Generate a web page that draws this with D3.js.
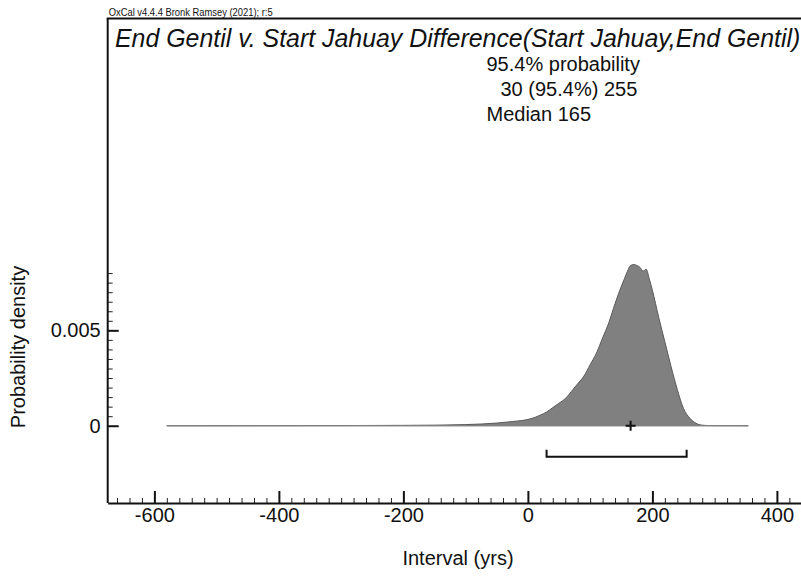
<!DOCTYPE html>
<html>
<head>
<meta charset="utf-8">
<script src="https://cdn.jsdelivr.net/npm/d3@7"></script>
<style>
	body { margin: 0; background: #fff; }
	svg { display: block; font-family: "Liberation Sans", Arial, sans-serif; }
	text { fill: #111; }
</style>
</head>
<body>
<div id="chart"></div>
<script>
// ---------- data
var intervalYrs = [-580, -500, -400, -300, -200, -150, -100, -75, -50, -25, 0, 10, 20, 30, 40, 50, 60, 70, 80, 90,
	100, 110, 120, 130, 140, 150, 155, 160, 165, 170, 175, 180, 185, 190, 195, 200, 210, 220, 230, 240,
	250, 260, 270, 280, 290, 300, 320, 340, 354];
var density = [0, 0.000002, 0.000004, 0.000008, 0.00002, 0.00003, 0.00006, 0.00009, 0.00014, 0.00022, 0.00033, 0.00042, 0.00056, 0.00072, 0.00095, 0.00118, 0.00142, 0.0018, 0.0022, 0.0026,
	0.0032, 0.0038, 0.0046, 0.0054, 0.0064, 0.0073, 0.0077, 0.0081, 0.0084, 0.00845, 0.0084, 0.0083, 0.0081, 0.0082, 0.0077, 0.0071, 0.0057, 0.0044, 0.0031, 0.0019,
	0.0009, 0.0004, 0.00013, 0.00003, 0.00001, 0.000005, 0.000005, 0.000003, 0];

var xMajorTicks = [-600, -400, -200, 0, 200, 400];
var yMajorTicks = [0, 0.005];
var yMinorMax = 0.008;
var hpdRange = [30, 255];
var median = 165;

var creditText = "OxCal v4.4.4 Bronk Ramsey (2021); r:5";
var titleText = "End Gentil v. Start Jahuay Difference(Start Jahuay,End Gentil)";
var summaryLines = ["95.4% probability", "30 (95.4%) 255", "Median 165"];
var xLabel = "Interval (yrs)";
var yLabel = "Probability density";

// ---------- layout
var width = 801, height = 576;
var frame = { left: 107.7, right: 801.8, top: 18.5, bottom: 503 };

var x = d3.scaleLinear().domain([-675, 440]).range([frame.left, frame.right]);
var y = d3.scaleLinear().domain([-0.00405, 0.02137]).range([frame.bottom, 18]);

var svg = d3.select("#chart").append("svg")
	.attr("width", width)
	.attr("height", height);

// ---------- density
var pts = intervalYrs.map(function (d, i) { return [d, density[i]]; });

svg.append("path")
	.datum(pts)
	.attr("d", d3.area()
		.curve(d3.curveMonotoneX)
		.x(function (d) { return x(d[0]); })
		.y0(y(0))
		.y1(function (d) { return y(d[1]); }))
	.style("fill", "#808080")
	.style("stroke", "#5a5a5a")
	.style("stroke-width", 1);

svg.append("line")
	.attr("x1", x(intervalYrs[0])).attr("x2", x(intervalYrs[intervalYrs.length - 1]))
	.attr("y1", y(0)).attr("y2", y(0))
	.style("stroke", "#8a8a8a")
	.style("stroke-width", 1);

// ---------- median cross + range bracket
var cx = x(median), cy = y(0);
svg.append("path")
	.attr("d", "M" + (cx - 5) + "," + cy + "H" + (cx + 5) + "M" + cx + "," + (cy - 5) + "V" + (cy + 5))
	.style("stroke", "#111").style("stroke-width", 2).style("fill", "none");

var by = y(0) + 31;
svg.append("path")
	.attr("d", "M" + x(hpdRange[0]) + "," + (by - 7) + "V" + by + "H" + x(hpdRange[1]) + "V" + (by - 7))
	.style("stroke", "#111").style("stroke-width", 2).style("fill", "none");

// ---------- axes
var xMinor = d3.range(-660, 441, 20).filter(function (d) { return xMajorTicks.indexOf(d) < 0; });
var yMinor = d3.range(0, yMinorMax + 0.00001, 0.0005).filter(function (d) {
	return yMajorTicks.every(function (t) { return Math.abs(t - d) > 1e-7; });
});

var gxMinor = svg.append("g").attr("transform", "translate(0," + frame.bottom + ")")
	.call(d3.axisBottom(x).tickValues(xMinor).tickSizeInner(-5).tickSizeOuter(0).tickFormat(""));
gxMinor.select(".domain").remove();
gxMinor.selectAll("line").style("stroke", "#222").style("stroke-width", 1);

var gx = svg.append("g").attr("transform", "translate(0," + frame.bottom + ")")
	.call(d3.axisBottom(x).tickValues(xMajorTicks).tickSizeInner(-12).tickSizeOuter(0).tickPadding(5)
		.tickFormat(function (d) { return String(d); }));

var gyMinor = svg.append("g").attr("transform", "translate(" + frame.left + ",0)")
	.call(d3.axisLeft(y).tickValues(yMinor).tickSizeInner(-5).tickSizeOuter(0).tickFormat(""));
gyMinor.select(".domain").remove();
gyMinor.selectAll("line").style("stroke", "#222").style("stroke-width", 1);

var gy = svg.append("g").attr("transform", "translate(" + frame.left + ",0)")
	.call(d3.axisLeft(y).tickValues(yMajorTicks).tickSizeInner(-11).tickSizeOuter(0).tickPadding(7)
		.tickFormat(function (d) { return d === 0 ? "0" : d.toFixed(3); }));
gy.select(".domain").attr("d", "M0," + frame.bottom + "V" + frame.top);

[gx, gy].forEach(function (g) {
	g.select(".domain").style("stroke", "#111").style("stroke-width", 2);
	g.selectAll(".tick line").style("stroke", "#111").style("stroke-width", 2);
	g.selectAll(".tick text").style("font-size", "20px").style("font-family", "Liberation Sans, Arial, sans-serif").style("fill", "#111");
});

// top border
svg.append("line")
	.attr("x1", frame.left - 1).attr("x2", frame.right)
	.attr("y1", frame.top).attr("y2", frame.top)
	.style("stroke", "#111").style("stroke-width", 2);

// ---------- texts
svg.append("text")
	.attr("x", frame.left + 1).attr("y", 16)
	.attr("textLength", 164)
	.attr("lengthAdjust", "spacingAndGlyphs")
	.style("font-size", "10.5px")
	.text(creditText);

svg.append("text")
	.attr("x", 115).attr("y", 46.5)
	.style("font-size", "24.9px").style("font-style", "italic")
	.text(titleText);

var summaryX = [486.5, 500.5, 486.5];
svg.selectAll(".summary")
	.data(summaryLines)
	.enter()
		.append("text")
		.attr("class", "summary")
		.attr("x", function (_, i) { return summaryX[i]; })
		.attr("y", function (_, i) { return 71 + 25 * i; })
		.style("font-size", "20px")
		.text(function (d) { return d; });

svg.append("text")
	.attr("x", 458).attr("y", 565)
	.attr("text-anchor", "middle")
	.style("font-size", "20px")
	.text(xLabel);

svg.append("text")
	.attr("transform", "translate(25,347) rotate(-90)")
	.attr("text-anchor", "middle")
	.style("font-size", "20px")
	.text(yLabel);
</script>
</body>
</html>
